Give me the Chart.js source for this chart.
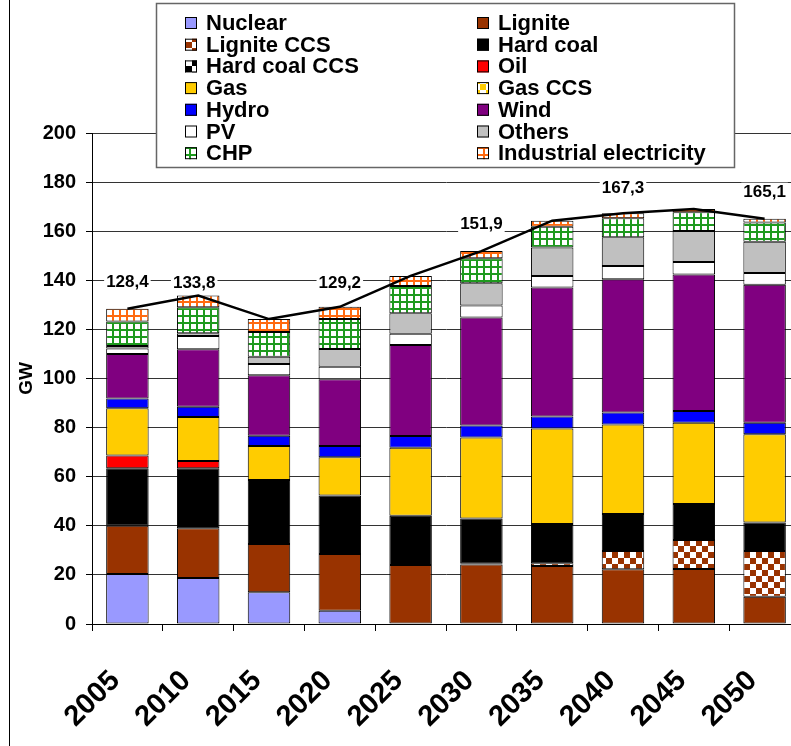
<!DOCTYPE html>
<html>
<head>
<meta charset="utf-8">
<script src="https://cdn.jsdelivr.net/npm/chart.js@4.4.1/dist/chart.umd.min.js"></script>
<style>
  html, body { margin: 0; padding: 0; overflow: hidden; background: #fff; }
  #wrap { width: 800px; height: 746px; }
</style>
</head>
<body>
<div id="wrap"><canvas id="chart" width="800" height="746"></canvas></div>
<script>
// values in GW
const years = ["2005", "2010", "2015", "2020", "2025", "2030", "2035", "2040", "2045", "2050"];
const nuclear     = [20.4, 18.7, 12.9, 5.4, 0, 0, 0, 0, 0, 0];
const lignite     = [19.6, 20.3, 19.7, 23.1, 24.0, 24.2, 23.6, 22.3, 22.4, 11.1];
const ligniteCCS  = [0, 0, 0, 0, 0, 0.5, 1.1, 7.4, 11.8, 18.6];
const hardCoal    = [23.4, 24.4, 26.1, 23.8, 20.1, 18.3, 16.0, 15.1, 14.7, 11.6];
const hardCoalCCS = [0, 0, 0, 0, 0, 0, 0, 0, 0, 0];
const oil         = [5.2, 3.0, 0, 0, 0, 0, 0, 0, 0, 0];
const gas         = [19.3, 17.9, 13.8, 15.6, 27.7, 33.0, 38.9, 36.5, 33.1, 36.0];
const gasCCS      = [0, 0, 0, 0, 0, 0, 0, 0, 0, 0];
const hydro       = [4.0, 4.2, 4.2, 4.6, 4.8, 4.9, 4.9, 4.8, 4.8, 4.7];
const wind        = [18.1, 23.4, 24.6, 27.2, 37.0, 43.9, 52.6, 54.3, 55.6, 56.2];
const pv          = [2.2, 5.4, 4.6, 5.1, 4.6, 4.9, 4.7, 5.4, 5.1, 4.8];
const others      = [1.0, 1.1, 3.0, 7.2, 8.4, 9.1, 11.6, 11.7, 12.6, 12.7];
const chp         = [10.0, 10.6, 10.0, 12.2, 11.1, 10.2, 8.4, 7.8, 7.6, 7.8];
const industrial  = [5.2, 4.8, 5.3, 5.0, 4.1, 2.9, 2.5, 2.0, 1.3, 1.6];
const totals      = [128.4, 133.8, 124.2, 129.2, 141.8, 151.9, 164.3, 167.3, 169.0, 165.1];
const totalLabels = ["128,4", "133,8", "", "129,2", "", "151,9", "", "167,3", "", "165,1"];

const FONT = "'Liberation Sans', Arial, sans-serif";
const canvas = document.getElementById("chart");
const ctx = canvas.getContext("2d");

function checker(color, size) {
  const c = document.createElement("canvas");
  c.width = c.height = size * 2;
  const g = c.getContext("2d");
  g.fillStyle = "#fff";
  g.fillRect(0, 0, size * 2, size * 2);
  g.fillStyle = color;
  g.fillRect(0, 0, size, size);
  g.fillRect(size, size, size, size);
  return ctx.createPattern(c, "repeat");
}

function gridPattern(color) {
  const c = document.createElement("canvas");
  c.width = c.height = 7;
  const g = c.getContext("2d");
  g.fillStyle = "#fff";
  g.fillRect(0, 0, 7, 7);
  g.fillStyle = color;
  g.fillRect(0, 0, 7, 2);
  g.fillRect(0, 0, 2, 7);
  return ctx.createPattern(c, "repeat");
}

function bar(label, data, color) {
  return {
    type: "bar", label, data,
    backgroundColor: color,
    borderColor: "#000",
    borderWidth: 1,
    borderSkipped: false,
    stack: "mix",
    order: 1
  };
}

const datasets = [
  bar("Nuclear", nuclear, "#9999FF"),
  bar("Lignite", lignite, "#993300"),
  bar("Lignite CCS", ligniteCCS, checker("#993300", 6)),
  bar("Hard coal", hardCoal, "#000000"),
  bar("Hard coal CCS", hardCoalCCS, checker("#000000", 6)),
  bar("Oil", oil, "#FF0000"),
  bar("Gas", gas, "#FFCC00"),
  bar("Gas CCS", gasCCS, checker("#FFCC00", 6)),
  bar("Hydro", hydro, "#0000FF"),
  bar("Wind", wind, "#800080"),
  bar("PV", pv, "#FFFFFF"),
  bar("Others", others, "#C0C0C0"),
  bar("CHP", chp, gridPattern("#1E9A1E")),
  bar("Industrial electricity", industrial, gridPattern("#FF6A10")),
  {
    type: "line", label: "Total", data: totals,
    borderColor: "#000", borderWidth: 2.5,
    pointRadius: 0, tension: 0, fill: false,
    stack: "total", order: 0
  }
];

// left edge of the chart frame
const framePlugin = {
  id: "frame",
  beforeDraw(chart) {
    const c = chart.ctx;
    c.save();
    c.strokeStyle = "#000";
    c.lineWidth = 1;
    c.beginPath();
    c.moveTo(9.5, 0);
    c.lineTo(9.5, chart.height);
    c.stroke();
    c.restore();
  }
};

// total values above the line
const totalLabelPlugin = {
  id: "totalLabels",
  afterDatasetsDraw(chart, args, opts) {
    const meta = chart.getDatasetMeta(chart.data.datasets.length - 1);
    const c = chart.ctx;
    c.save();
    c.font = "bold 17px " + FONT;
    c.textAlign = "center";
    c.textBaseline = "middle";
    meta.data.forEach((pt, i) => {
      const txt = totalLabels[i];
      if (!txt) return;
      const x = pt.x + (opts.dx[i] || 0);
      const y = pt.y + (opts.dy[i] || 0);
      const w = c.measureText(txt).width;
      c.fillStyle = "#fff";
      c.fillRect(x - w / 2 - 2, y - 9, w + 4, 18);
      c.fillStyle = "#000";
      c.fillText(txt, x, y + 1);
    });
    c.restore();
  }
};

// two-column legend box drawn over the top of the plot
const boxLegendPlugin = {
  id: "boxLegend",
  afterDraw(chart) {
    const c = chart.ctx;
    const box = { x: 156, y: 3, w: 578, h: 164 };
    c.save();
    c.fillStyle = "#fff";
    c.fillRect(box.x, box.y, box.w, box.h);
    c.strokeStyle = "#666";
    c.lineWidth = 1.5;
    c.strokeRect(box.x + 0.5, box.y + 0.5, box.w, box.h);
    c.font = "bold 22px " + FONT;
    c.textBaseline = "alphabetic";
    c.textAlign = "left";
    const colX = [185, 477];
    chart.data.datasets.forEach((ds, i) => {
      if (ds.type !== "bar") return;
      const col = i % 2;
      const row = Math.floor(i / 2);
      const sx = colX[col];
      const sy = 17 + row * 21.7;
      c.fillStyle = ds.backgroundColor;
      c.fillRect(sx, sy, 12, 12);
      c.strokeStyle = "#000";
      c.lineWidth = 1;
      c.strokeRect(sx + 0.5, sy + 0.5, 11, 11);
      c.fillStyle = "#000";
      c.fillText(ds.label, sx + 21, sy + 13);
    });
    c.restore();
  }
};

new Chart(canvas, {
  data: { labels: years, datasets },
  options: {
    responsive: false,
    animation: false,
    layout: { padding: { top: 133, left: 0, right: 0, bottom: 0 } },
    plugins: {
      legend: { display: false },
      tooltip: { enabled: false },
      totalLabels: {
        dx: [0, -4, 0, 0, 0, 0, 0, 0, 0, 0],
        dy: [-27, -13.5, 0, -25, 0, -28, 0, -26, 0, -27]
      }
    },
    datasets: { bar: { categoryPercentage: 1, barPercentage: 0.6 } },
    scales: {
      x: {
        stacked: true,
        offset: true,
        grid: { display: true, drawOnChartArea: false, drawTicks: true, tickLength: 7, color: "#000", offset: true },
        border: { color: "#000", width: 1 },
        ticks: {
          color: "#000",
          font: { family: FONT, size: 29, weight: "bold" },
          minRotation: 45, maxRotation: 45,
          autoSkip: false,
          padding: 33,
          labelOffset: -12
        },
        afterFit(s) { s.height = 122; s.paddingLeft = 0; s.paddingRight = 0; }
      },
      y: {
        stacked: true,
        min: 0, max: 200,
        ticks: {
          stepSize: 20,
          color: "#000",
          font: { family: FONT, size: 20, weight: "bold" },
          padding: 10
        },
        grid: { color: "#333", tickColor: "#000", tickLength: 6, lineWidth: 1 },
        border: { color: "#000", width: 1 },
        title: {
          display: true, text: "GW", color: "#000",
          font: { family: FONT, size: 19, weight: "bold" },
          padding: { top: 15, bottom: 0 }
        },
        afterFit(s) { s.width = 92; s.paddingTop = 0; s.paddingBottom = 0; }
      }
    }
  },
  plugins: [framePlugin, totalLabelPlugin, boxLegendPlugin]
});
</script>
</body>
</html>
